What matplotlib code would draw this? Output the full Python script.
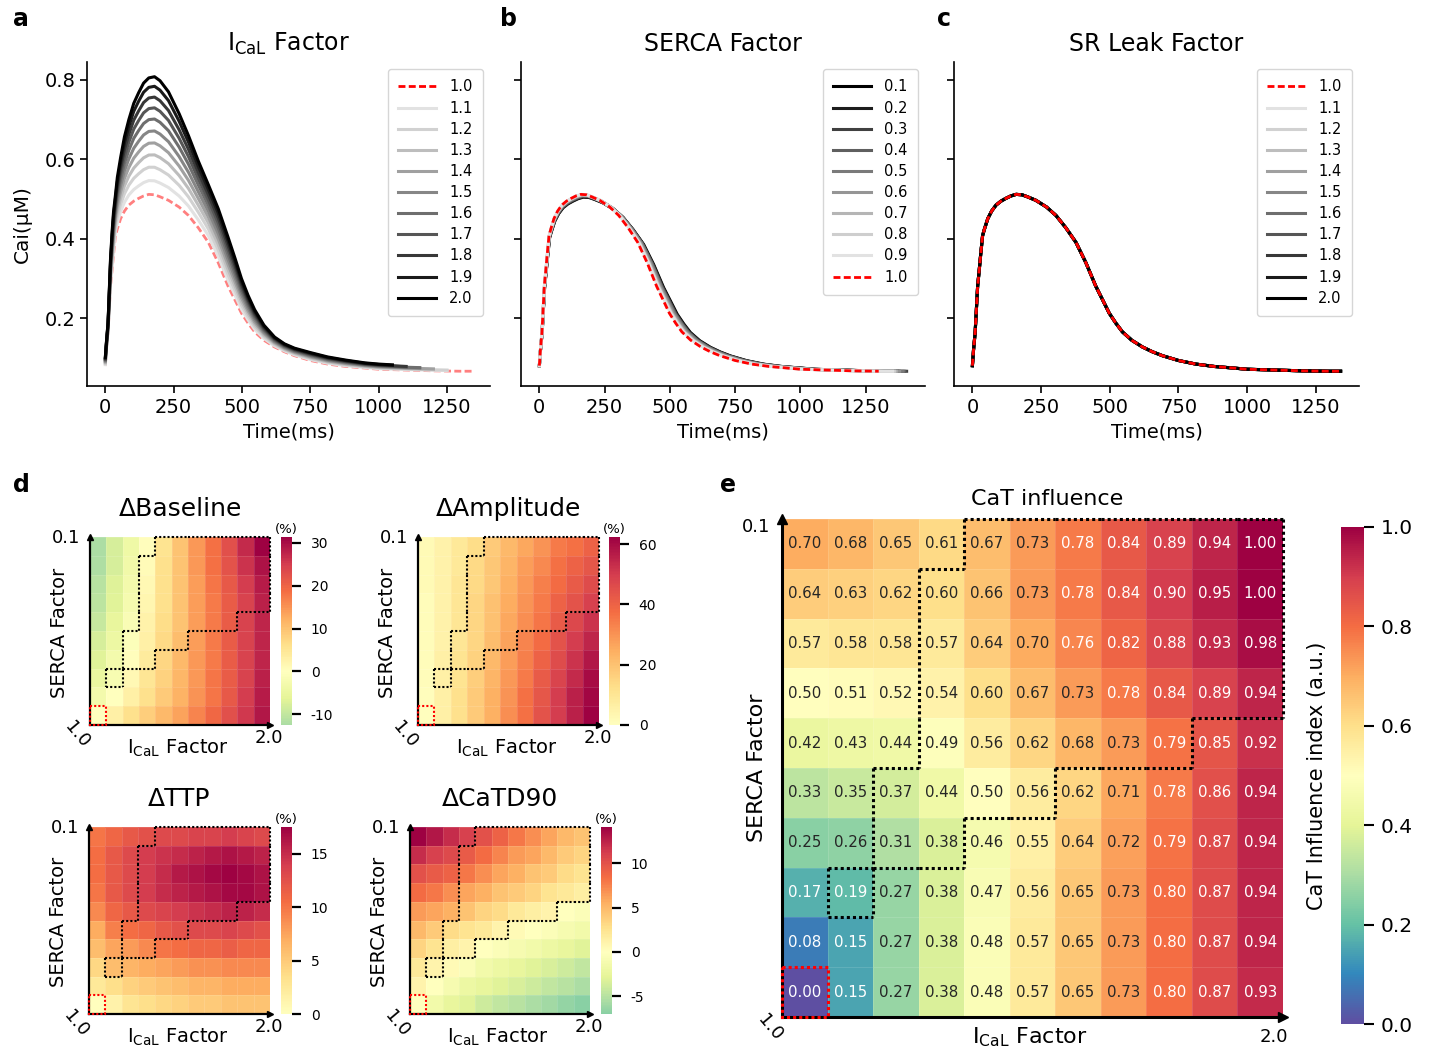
import numpy as np
import matplotlib
matplotlib.use('Agg')
import matplotlib.pyplot as plt
from matplotlib.colors import ListedColormap, Normalize
from matplotlib.collections import LineCollection
from matplotlib.patches import Rectangle

plt.rcParams['font.family'] = 'DejaVu Sans'
plt.rcParams['axes.unicode_minus'] = False

# control Ca transient (time in ms, Cai in uM)
t_ref = [0, 4, 10, 19, 25, 30, 37, 44, 56, 70, 86, 104, 122, 140, 159, 180, 200,
         231, 270, 304, 340, 377, 413, 449, 475, 498, 522, 546, 580, 619, 655, 692,
         750, 813, 880, 950, 1000, 1050, 1100, 1150, 1200, 1250, 1300, 1340]
cai_ref = [0.081, 0.120, 0.165, 0.281, 0.323, 0.360, 0.408, 0.425, 0.451, 0.470, 0.485,
           0.495, 0.502, 0.508, 0.512, 0.511, 0.506, 0.497, 0.480, 0.459, 0.428, 0.391,
           0.340, 0.281, 0.245, 0.213, 0.188, 0.166, 0.145, 0.128, 0.116, 0.106, 0.094,
           0.085, 0.079, 0.075, 0.072, 0.071, 0.070, 0.069, 0.068, 0.0675, 0.067, 0.067]
# transient with ICaL x2.0, same time points
cai_ical2 = [0.102, 0.140, 0.190, 0.350, 0.420, 0.468, 0.510, 0.555, 0.605, 0.657, 0.700,
             0.741, 0.768, 0.792, 0.805, 0.808, 0.798, 0.770, 0.715, 0.660, 0.596, 0.536,
             0.476, 0.404, 0.350, 0.300, 0.258, 0.222, 0.183, 0.153, 0.136, 0.125, 0.114,
             0.103, 0.095, 0.088, 0.085, 0.083, 0.081, 0.080, 0.079, 0.078, 0.077, 0.077]
cai_floor = 0.06

# a: ICaL scaling
ical_factors = ['1.0', '1.1', '1.2', '1.3', '1.4', '1.5', '1.6', '1.7', '1.8', '1.9', '2.0']
ical_peaks = [0.512, 0.547, 0.581, 0.612, 0.642, 0.672, 0.702, 0.730, 0.757, 0.784, 0.808]
ical_ends = [1340, 1250, 1250, 1200, 1200, 1150, 1150, 1100, 1100, 1050, 1050]

# b: SERCA scaling
serca_factors = ['0.1', '0.2', '0.3', '0.4', '0.5', '0.6', '0.7', '0.8', '0.9', '1.0']
serca_peaks = [0.505, 0.506, 0.507, 0.508, 0.509, 0.510, 0.511, 0.511, 0.512, 0.512]
serca_stretch = [1.06, 1.055, 1.05, 1.045, 1.04, 1.03, 1.02, 1.015, 1.01, 1.0]
serca_ends = [1410, 1410, 1410, 1410, 1410, 1410, 1410, 1410, 1410, 1330]

# c: SR leak scaling
leak_factors = ['1.0', '1.1', '1.2', '1.3', '1.4', '1.5', '1.6', '1.7', '1.8', '1.9', '2.0']

# d/e grids: rows SERCA 0.1 (top) -> 1.0 (bottom), columns ICaL 1.0 -> 2.0
d_baseline = [
    [-12.5, -8.0, -4.0, 0.5, 5.5, 10.0, 14.5, 18.5, 22.5, 27.0, 31.4],
    [-12.0, -8.0, -3.5, 1.0, 6.0, 10.0, 14.5, 18.5, 22.0, 26.0, 29.5],
    [-11.0, -7.0, -3.0, 1.5, 6.0, 10.0, 14.0, 18.0, 21.5, 25.0, 28.5],
    [-10.5, -6.5, -2.5, 2.0, 6.0, 10.0, 14.0, 17.5, 21.0, 24.5, 28.0],
    [-9.5, -5.5, -1.5, 2.5, 6.5, 10.0, 14.0, 17.5, 21.0, 24.5, 27.5],
    [-8.0, -4.5, -1.0, 3.0, 7.0, 10.5, 14.0, 17.5, 21.0, 24.5, 27.5],
    [-6.5, -3.0, 0.5, 4.0, 7.5, 11.0, 14.5, 17.5, 21.0, 24.5, 27.5],
    [-5.0, -2.0, 1.5, 5.0, 8.0, 11.5, 14.5, 18.0, 21.0, 24.5, 28.0],
    [-3.0, 0.0, 3.0, 6.0, 9.0, 12.0, 15.0, 18.0, 21.5, 25.0, 28.5],
    [0.0, 3.0, 6.0, 8.5, 11.0, 13.5, 16.5, 19.5, 22.5, 25.5, 29.0],
]
d_amplitude = [
    [2, 5, 9, 13, 18, 22, 26, 30, 35, 37, 40],
    [2, 5, 9, 14, 19, 23, 28, 32, 37, 40, 43],
    [2, 5, 10, 14, 19, 24, 29, 34, 38, 42, 46],
    [1, 5, 10, 15, 20, 25, 30, 35, 40, 44, 49],
    [1, 5, 10, 15, 20, 26, 31, 36, 42, 47, 52],
    [1, 5, 10, 15, 21, 27, 33, 38, 44, 50, 55],
    [1, 6, 11, 16, 22, 28, 34, 40, 46, 52, 58],
    [1, 6, 11, 17, 23, 29, 35, 42, 48, 54, 60],
    [0.5, 6, 12, 18, 24, 30, 37, 43, 50, 56, 61],
    [0, 6, 12, 18, 24, 31, 37, 44, 50, 56, 62.4],
]
d_ttp = [
    [10.0, 11.0, 12.0, 12.5, 13.0, 13.0, 13.5, 13.5, 14.0, 13.5, 13.0],
    [10.5, 12.0, 13.0, 14.0, 14.5, 15.0, 15.5, 16.0, 16.5, 16.0, 15.5],
    [10.5, 12.0, 13.0, 14.0, 15.0, 16.0, 16.5, 17.0, 17.5, 17.0, 16.5],
    [10.0, 12.0, 13.0, 14.0, 15.0, 15.5, 16.0, 16.5, 17.0, 17.0, 16.5],
    [9.0, 11.0, 12.0, 13.0, 13.5, 14.0, 14.5, 15.0, 15.5, 15.5, 15.0],
    [7.0, 9.5, 10.5, 11.0, 12.0, 12.5, 13.0, 13.0, 13.5, 13.0, 12.5],
    [6.0, 7.5, 8.0, 9.0, 10.0, 10.5, 11.0, 11.0, 11.5, 11.0, 11.0],
    [4.0, 6.0, 6.5, 7.0, 7.5, 8.0, 8.5, 8.5, 9.0, 9.0, 9.0],
    [2.5, 3.5, 4.5, 5.0, 5.5, 6.0, 6.5, 6.5, 7.0, 7.0, 7.0],
    [0.0, 1.5, 3.0, 3.5, 4.0, 4.5, 5.0, 5.0, 5.5, 5.5, 5.5],
]
d_catd90 = [
    [14.1, 13.0, 12.0, 11.0, 10.0, 9.0, 8.0, 7.0, 6.0, 5.0, 4.5],
    [12.0, 11.0, 10.5, 9.5, 8.5, 7.5, 6.5, 6.0, 5.0, 4.0, 3.5],
    [10.0, 9.5, 9.0, 8.0, 7.0, 6.0, 5.5, 4.5, 4.0, 3.0, 2.5],
    [8.5, 8.0, 7.0, 6.0, 5.5, 4.5, 4.0, 3.5, 2.5, 2.0, 1.5],
    [6.5, 6.0, 5.5, 4.5, 3.5, 3.0, 2.0, 1.5, 1.0, 0.0, -0.5],
    [5.0, 4.0, 3.0, 2.5, 2.0, 1.0, 0.5, 0.0, -0.5, -1.0, -1.5],
    [3.5, 2.5, 1.5, 1.0, 0.0, -0.5, -1.0, -1.5, -2.0, -2.5, -3.0],
    [2.0, 1.0, 0.5, -0.5, -1.5, -2.0, -2.5, -3.0, -3.5, -4.0, -4.5],
    [1.0, 0.0, -1.0, -2.0, -2.5, -3.0, -3.5, -4.0, -4.5, -5.0, -5.5],
    [0.0, -1.5, -2.5, -3.0, -4.0, -4.5, -5.0, -5.5, -6.0, -6.5, -7.0],
]
cat_influence = [
    [0.70, 0.68, 0.65, 0.61, 0.67, 0.73, 0.78, 0.84, 0.89, 0.94, 1.00],
    [0.64, 0.63, 0.62, 0.60, 0.66, 0.73, 0.78, 0.84, 0.90, 0.95, 1.00],
    [0.57, 0.58, 0.58, 0.57, 0.64, 0.70, 0.76, 0.82, 0.88, 0.93, 0.98],
    [0.50, 0.51, 0.52, 0.54, 0.60, 0.67, 0.73, 0.78, 0.84, 0.89, 0.94],
    [0.42, 0.43, 0.44, 0.49, 0.56, 0.62, 0.68, 0.73, 0.79, 0.85, 0.92],
    [0.33, 0.35, 0.37, 0.44, 0.50, 0.56, 0.62, 0.71, 0.78, 0.86, 0.94],
    [0.25, 0.26, 0.31, 0.38, 0.46, 0.55, 0.64, 0.72, 0.79, 0.87, 0.94],
    [0.17, 0.19, 0.27, 0.38, 0.47, 0.56, 0.65, 0.73, 0.80, 0.87, 0.94],
    [0.08, 0.15, 0.27, 0.38, 0.48, 0.57, 0.65, 0.73, 0.80, 0.87, 0.94],
    [0.00, 0.15, 0.27, 0.38, 0.48, 0.57, 0.65, 0.73, 0.80, 0.87, 0.93],
]
# cells inside the dotted contour
normal_zone = [
    [0, 0, 0, 0, 1, 1, 1, 1, 1, 1, 1],
    [0, 0, 0, 1, 1, 1, 1, 1, 1, 1, 1],
    [0, 0, 0, 1, 1, 1, 1, 1, 1, 1, 1],
    [0, 0, 0, 1, 1, 1, 1, 1, 1, 1, 1],
    [0, 0, 0, 1, 1, 1, 1, 1, 1, 0, 0],
    [0, 0, 1, 1, 1, 1, 0, 0, 0, 0, 0],
    [0, 0, 1, 1, 0, 0, 0, 0, 0, 0, 0],
    [0, 1, 0, 0, 0, 0, 0, 0, 0, 0, 0],
    [0, 0, 0, 0, 0, 0, 0, 0, 0, 0, 0],
    [0, 0, 0, 0, 0, 0, 0, 0, 0, 0, 0],
]
d_titles = ['ΔBaseline', 'ΔAmplitude', 'ΔTTP', 'ΔCaTD90']
d_ticks = [[-10, 0, 10, 20, 30], [0, 20, 40, 60], [0, 5, 10, 15], [-5, 0, 5, 10]]

W, H = 1435, 1055
fig = plt.figure(figsize=(W / 100, H / 100), dpi=100)


def box(x0, y0, x1, y1):
    return [x0 / W, 1 - y1 / H, (x1 - x0) / W, (y1 - y0) / H]


ICAL = r'$\mathregular{I_{CaL}}$ Factor'
t = np.array(t_ref)
base = np.array(cai_ref)
ical2 = np.array(cai_ical2)
dash = (2.5, 1.2)
leg_kw = dict(loc='upper right', fontsize=10.5, handlelength=2.6, handletextpad=0.9,
              borderpad=0.7, labelspacing=0.42)

ax_a = fig.add_axes(box(87, 62, 490, 386))
ax_b = fig.add_axes(box(521, 62, 925, 386), sharey=ax_a)
ax_c = fig.add_axes(box(954, 62, 1359, 386), sharey=ax_a)

# a: each trace sits between control and ICaL x2.0 according to its peak
greys = plt.cm.Greys(np.linspace(0.2, 1.0, 10))
for i, f in enumerate(ical_factors):
    w = (ical_peaks[i] - ical_peaks[0]) / (ical_peaks[-1] - ical_peaks[0])
    keep = t <= ical_ends[i]
    y = base[keep] + w * (ical2[keep] - base[keep])
    if i == 0:
        ax_a.plot(t[keep], y, color='red', alpha=0.5, lw=2, ls='--', dashes=dash, label=f)
    else:
        ax_a.plot(t[keep], y, color=greys[i - 1], lw=2.2, label=f)
leg = ax_a.legend(**leg_kw)
leg.legend_handles[0].set_alpha(1)
ax_a.set_ylabel('Cai(μM)', fontsize=14.5, labelpad=9)
ax_a.set_title(ICAL, fontsize=17, pad=8)

# b
greys_b = plt.cm.Greys(np.linspace(1.0, 0.2, 9))
for i, f in enumerate(serca_factors):
    ts = t * serca_stretch[i]
    keep = ts <= serca_ends[i]
    y = cai_floor + (base[keep] - cai_floor) * (serca_peaks[i] - cai_floor) / (base.max() - cai_floor)
    if i == len(serca_factors) - 1:
        ax_b.plot(ts[keep], y, color='red', lw=2, ls='--', dashes=dash, label=f, zorder=3)
    else:
        ax_b.plot(ts[keep], y, color=greys_b[i], lw=2.2, label=f)
ax_b.legend(**leg_kw)
ax_b.set_title('SERCA Factor', fontsize=17, pad=8)

# c
for i, f in enumerate(leak_factors):
    if i == 0:
        ax_c.plot(t, base, color='red', lw=2, ls='--', dashes=dash, label=f, zorder=3)
    else:
        ax_c.plot(t, base, color=greys[i - 1], lw=2.2, label=f)
ax_c.legend(**leg_kw)
ax_c.set_title('SR Leak Factor', fontsize=17, pad=8)

for ax in (ax_a, ax_b, ax_c):
    for s in ('top', 'right'):
        ax.spines[s].set_visible(False)
    for s in ('left', 'bottom'):
        ax.spines[s].set_linewidth(1.2)
    ax.tick_params(labelsize=14, width=1.2, length=5)
    ax.set_xticks([0, 250, 500, 750, 1000, 1250])
    ax.set_xlabel('Time(ms)', fontsize=14)
for ax in (ax_b, ax_c):
    ax.tick_params(labelleft=False)


def part_cmap(vmin, vmax):
    m = max(abs(vmin), abs(vmax))
    return ListedColormap(plt.cm.Spectral_r(np.linspace(0.5 + vmin / (2 * m), 0.5 + vmax / (2 * m), 256)))


def outline(ax, mask, **kw):
    m = np.array(mask, bool)
    nr, nc = m.shape
    segs = []
    for r in range(nr):
        for c in range(nc):
            if not m[r, c]:
                continue
            if r == 0 or not m[r - 1, c]:
                segs.append([(c, r), (c + 1, r)])
            if r == nr - 1 or not m[r + 1, c]:
                segs.append([(c, r + 1), (c + 1, r + 1)])
            if c == 0 or not m[r, c - 1]:
                segs.append([(c, r), (c, r + 1)])
            if c == nc - 1 or not m[r, c + 1]:
                segs.append([(c + 1, r), (c + 1, r + 1)])
    lc = LineCollection(segs, clip_on=False, zorder=4, **kw)
    ax.add_collection(lc)


def heat(ax, data, cmap, norm, lw, ms, dot_lw, fs_corner, fs_lab, pos):
    data = np.array(data)
    nr, nc = data.shape
    mesh = ax.pcolormesh(np.arange(nc + 1), np.arange(nr + 1), data, cmap=cmap, norm=norm,
                         edgecolors=(1, 1, 1, 0.12), linewidth=0.5)
    ax.set_xlim(0, nc)
    ax.set_ylim(nr, 0)
    ax.set_xticks([])
    ax.set_yticks([])
    for s in ('top', 'right'):
        ax.spines[s].set_visible(False)
    for s in ('left', 'bottom'):
        ax.spines[s].set_linewidth(lw)
    ax.plot([0], [1], marker='^', ms=ms, color='k', transform=ax.transAxes, clip_on=False)
    ax.plot([1], [0], marker='>', ms=ms, color='k', transform=ax.transAxes, clip_on=False)
    outline(ax, normal_zone, colors='k', linewidths=dot_lw, linestyles=[(0, (1, 1))])
    ax.add_patch(Rectangle((0, nr - 1), 1, 1, fill=False, edgecolor='red', lw=dot_lw,
                           ls=(0, (1, 1)), clip_on=False, zorder=5))
    tr = ax.transAxes
    ax.text(*pos['top'], '0.1', transform=tr, ha='right', va='center', fontsize=fs_corner)
    ax.text(*pos['right'], '2.0', transform=tr, ha='center', va='center', fontsize=fs_corner)
    ax.text(*pos['corner'], '1.0', transform=tr, ha='center', va='center', fontsize=fs_corner,
            rotation=-50)
    ax.text(*pos['xlab'], ICAL, transform=tr, ha='center', va='center', fontsize=fs_lab)
    ax.text(*pos['ylab'], 'SERCA Factor', transform=tr, ha='center', va='center',
            fontsize=fs_lab, rotation=90)
    return mesh


# d
d_data = [d_baseline, d_amplitude, d_ttp, d_catd90]
d_boxes = [(90, 537, 270, 725), (418, 537, 599, 725), (89, 827, 270, 1014), (410, 827, 590, 1014)]
d_cbars = [(281, 537, 292, 725), (609, 537, 620, 725), (281, 827, 292, 1014), (601, 827, 612, 1014)]
d_pos = dict(top=(-0.056, 0.995), right=(0.994, -0.07), corner=(-0.074, -0.05),
             xlab=(0.49, -0.125), ylab=(-0.167, 0.49))
for data, title, ticks, bx, cbx in zip(d_data, d_titles, d_ticks, d_boxes, d_cbars):
    ax = fig.add_axes(box(*bx))
    vmin, vmax = np.min(data), np.max(data)
    mesh = heat(ax, data, part_cmap(vmin, vmax), Normalize(vmin, vmax), 1.6, 5, 1.5, 13, 14, d_pos)
    ax.set_title(title, fontsize=18, pad=15)
    cax = fig.add_axes(box(*cbx))
    cb = fig.colorbar(mesh, cax=cax, ticks=ticks)
    cb.outline.set_visible(False)
    cax.tick_params(length=6.5, width=1.6, labelsize=10, pad=7)
    cax.set_title('(%)', fontsize=9.5, pad=3)

# e
ax_e = fig.add_axes(box(782, 519, 1283, 1017))
norm_e = Normalize(0, 1)
cmap_e = plt.cm.Spectral_r
e_pos = dict(top=(-0.024, 0.984), right=(0.982, -0.04), corner=(-0.024, -0.022),
             xlab=(0.495, -0.04), ylab=(-0.05, 0.5))
mesh_e = heat(ax_e, cat_influence, cmap_e, norm_e, 2.2, 7, 2.2, 13, 16, e_pos)
ax_e.set_title('CaT influence', fontsize=16, x=0.53, pad=10)


def luminance(rgb):
    lin = [c / 12.92 if c <= 0.03928 else ((c + 0.055) / 1.055) ** 2.4 for c in rgb[:3]]
    return 0.2126 * lin[0] + 0.7152 * lin[1] + 0.0722 * lin[2]


for r, row in enumerate(cat_influence):
    for c, v in enumerate(row):
        col = '.15' if luminance(cmap_e(norm_e(v))) > 0.43 else 'w'
        ax_e.text(c + 0.5, r + 0.5, f'{v:.2f}', ha='center', va='center', fontsize=10.8, color=col)

cax_e = fig.add_axes(box(1341, 527, 1364, 1024))
cb_e = fig.colorbar(mesh_e, cax=cax_e, ticks=[0, 0.2, 0.4, 0.6, 0.8, 1.0], format='%.1f')
cb_e.outline.set_visible(False)
cax_e.tick_params(length=7, width=1.5, labelsize=14.5, pad=5)
cax_e.yaxis.set_label_position('left')
cb_e.set_label('CaT Influence index (a.u.)', fontsize=15, labelpad=10)

for x, y, lab in [(13, 26, 'a'), (500, 26, 'b'), (937, 26, 'c'), (13, 492, 'd'), (720, 492, 'e')]:
    fig.text(x / W, 1 - y / H, lab, fontsize=17, fontweight='bold', va='baseline')

fig.savefig('out.png', dpi=100)
